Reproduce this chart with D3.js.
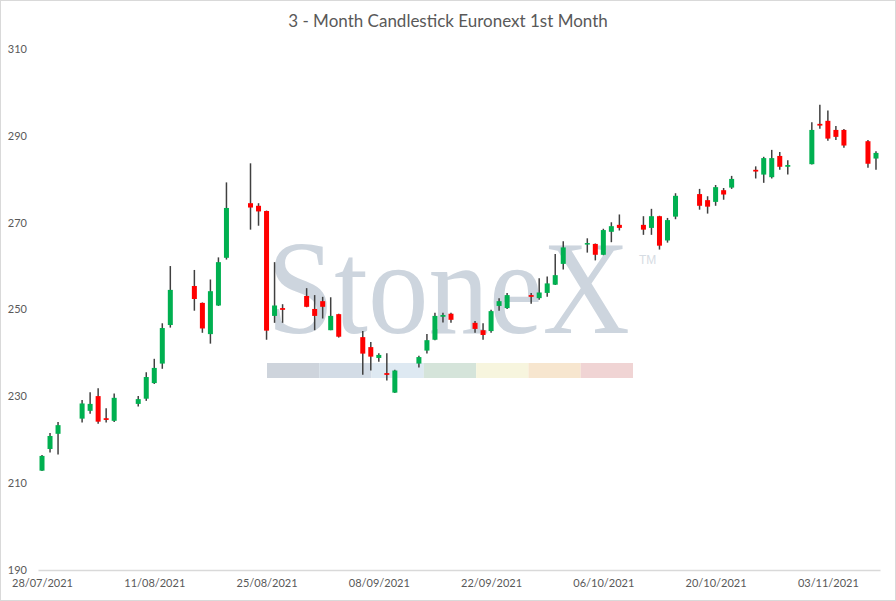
<!DOCTYPE html>
<html>
<head>
<meta charset="utf-8">
<script src="https://cdn.jsdelivr.net/npm/d3@7"></script>
<style>
  html, body { margin: 0; padding: 0; background: #fff; }
  svg { display: block; }
</style>
</head>
<body>
<div id="chart"></div>
<script>
// trading days (dd/mm/yyyy) and daily OHLC
const dates = [
  '28/07/2021','29/07/2021','30/07/2021',
  '02/08/2021','03/08/2021','04/08/2021','05/08/2021','06/08/2021',
  '09/08/2021','10/08/2021','11/08/2021','12/08/2021','13/08/2021',
  '16/08/2021','17/08/2021','18/08/2021','19/08/2021','20/08/2021',
  '23/08/2021','24/08/2021','25/08/2021','26/08/2021','27/08/2021',
  '30/08/2021','31/08/2021','01/09/2021','02/09/2021','03/09/2021',
  '06/09/2021','07/09/2021','08/09/2021','09/09/2021','10/09/2021',
  '13/09/2021','14/09/2021','15/09/2021','16/09/2021','17/09/2021',
  '20/09/2021','21/09/2021','22/09/2021','23/09/2021','24/09/2021',
  '27/09/2021','28/09/2021','29/09/2021','30/09/2021','01/10/2021',
  '04/10/2021','05/10/2021','06/10/2021','07/10/2021','08/10/2021',
  '11/10/2021','12/10/2021','13/10/2021','14/10/2021','15/10/2021',
  '18/10/2021','19/10/2021','20/10/2021','21/10/2021','22/10/2021',
  '25/10/2021','26/10/2021','27/10/2021','28/10/2021','29/10/2021',
  '01/11/2021','02/11/2021','03/11/2021','04/11/2021','05/11/2021',
  '08/11/2021','09/11/2021'
];
const open = [
  212.8, 217.8, 221.3,
  224.8, 226.6, 230.0, 224.9, 224.3,
  228.2, 229.4, 233.0, 237.5, 246.4,
  255.4, 251.5, 244.3, 250.9, 261.9,
  274.5, 273.9, 272.7, 248.5, 250.3,
  253.1, 250.1, 251.9, 245.2, 248.9,
  243.6, 241.3, 238.8, 235.3, 230.8,
  237.5, 240.5, 243.0, 248.3, 249.0,
  246.9, 245.2, 245.0, 250.8, 250.3,
  253.3, 252.6, 253.8, 255.7, 260.5,
  265.0, 265.1, 262.6, 267.9, 269.5,
  269.5, 268.8, 271.5, 265.9, 271.4,
  276.6, 275.2, 274.8, 277.5, 278.1,
  282.2, 281.1, 280.5, 285.4, 282.9,
  283.5, 292.8, 293.5, 291.4, 291.4,
  288.8, 284.8
];
const high = [
  216.4, 221.5, 224.0,
  229.1, 230.9, 231.8, 227.2, 230.6,
  230.0, 235.5, 238.6, 246.8, 260.0,
  259.1, 251.6, 256.9, 262.0, 279.3,
  283.7, 274.5, 272.8, 260.9, 251.2,
  254.9, 253.3, 252.9, 252.8, 249.0,
  245.0, 242.5, 239.9, 239.9, 236.1,
  239.3, 244.3, 249.2, 249.2, 249.2,
  247.3, 246.8, 249.9, 252.6, 253.8,
  253.8, 257.2, 257.6, 262.8, 265.7,
  266.4, 265.2, 268.6, 270.1, 271.9,
  271.5, 273.2, 271.6, 271.1, 276.8,
  277.8, 276.1, 278.7, 278.0, 280.8,
  283.0, 285.2, 286.8, 286.3, 284.4,
  293.2, 297.2, 295.9, 292.3, 291.6,
  289.1, 286.5
];
const low = [
  212.7, 217.0, 216.5,
  223.9, 225.9, 223.6, 223.9, 224.0,
  227.6, 228.9, 232.8, 236.3, 245.8,
  249.7, 244.6, 242.1, 250.8, 261.5,
  268.4, 269.3, 243.0, 246.9, 246.9,
  250.5, 245.2, 247.9, 245.2, 243.5,
  234.9, 235.9, 237.9, 233.6, 230.7,
  236.6, 239.8, 242.9, 247.0, 246.9,
  244.6, 243.0, 244.6, 249.7, 250.1,
  251.3, 252.2, 252.9, 255.6, 259.2,
  263.1, 261.3, 262.5, 265.5, 268.2,
  267.2, 267.2, 263.8, 265.4, 270.8,
  273.0, 272.1, 273.9, 275.3, 277.8,
  280.2, 279.2, 280.2, 282.2, 281.1,
  283.4, 291.7, 288.9, 289.1, 287.3,
  282.7, 282.2
];
const close = [
  216.2, 220.8, 223.3,
  228.3, 228.2, 224.1, 224.5, 229.6,
  229.3, 234.4, 236.5, 245.7, 254.5,
  252.4, 245.6, 254.2, 260.9, 273.4,
  273.5, 272.6, 245.1, 250.9, 249.9,
  250.6, 248.5, 250.6, 248.5, 243.7,
  239.8, 239.1, 239.5, 234.9, 235.9,
  239.0, 242.9, 248.5, 248.7, 247.6,
  245.5, 244.1, 249.6, 251.9, 253.3,
  252.9, 253.9, 256.0, 257.9, 264.3,
  265.3, 262.6, 268.3, 269.2, 268.8,
  268.4, 271.5, 264.7, 270.6, 276.2,
  273.9, 273.7, 278.2, 276.5, 280.1,
  281.8, 284.9, 284.9, 282.9, 283.3,
  291.4, 292.4, 289.4, 289.8, 287.8,
  283.6, 286.1
];
const yTicks = [190, 210, 230, 250, 270, 290, 310];
const xTickLabels = ['28/07/2021','11/08/2021','25/08/2021','08/09/2021','22/09/2021','06/10/2021','20/10/2021','03/11/2021'];
const titleText = '3 - Month Candlestick Euronext 1st Month';
const watermarkColors = ['#ced4dc','#d3dce6','#dee9f2','#d5e4da','#f7f5de','#f7e6cf','#f0d4d4'];

const W = 896, H = 601;
const parse = d3.utcParse('%d/%m/%Y');
const fmt = d3.utcFormat('%d/%m/%Y');

const candles = dates.map((d, i) => ({
  date: parse(d), o: open[i], h: high[i], l: low[i], c: close[i]
}));

const svg = d3.select('#chart').append('svg')
  .attr('width', W)
  .attr('height', H);

svg.append('rect')
  .attr('x', 0.5).attr('y', 0.5)
  .attr('width', W - 1).attr('height', H - 1)
  .attr('fill', '#fff')
  .attr('stroke', '#d9d9d9');

// one slot per calendar day, candle centred in its slot
const firstDay = parse(dates[0]);
const lastDay = d3.utcDay.offset(parse(dates[dates.length - 1]), 1);
const x = d3.scaleUtc().domain([firstDay, lastDay]).range([38, 880]);
const mid = d => d3.utcHour.offset(d, 12);

const y = d3.scaleLinear().domain([190, 310]).range([569.5, 49.3]);

// watermark
const wm = svg.append('g').attr('class', 'watermark');
wm.append('text')
  .attr('transform', 'translate(267,333) scale(1,1.1)')
  .attr('font-family', '"Liberation Serif", "DejaVu Serif", serif')
  .attr('font-size', 121)
  .attr('fill', '#cdd5de')
  .text('StoneX');
wm.append('text')
  .attr('x', 639).attr('y', 264)
  .attr('font-family', '"Liberation Sans", sans-serif')
  .attr('font-size', 12)
  .attr('fill', '#d6dce3')
  .text('TM');
const segW = (633 - 267) / watermarkColors.length;
wm.selectAll('rect')
  .data(watermarkColors)
  .enter()
  .append('rect')
  .attr('x', (d, i) => 267 + i * segW)
  .attr('y', 363)
  .attr('width', segW)
  .attr('height', 15)
  .attr('fill', d => d);

// title
svg.append('text')
  .attr('x', W / 2).attr('y', 27)
  .attr('text-anchor', 'middle')
  .attr('font-family', 'Lato, "Open Sans", sans-serif')
  .attr('font-size', 17)
  .attr('fill', '#595959')
  .text(titleText);

// y axis (labels only)
const yAxis = svg.append('g')
  .attr('transform', 'translate(27,0)')
  .call(d3.axisLeft(y).tickValues(yTicks).tickSize(0).tickPadding(0));
yAxis.select('.domain').remove();
yAxis.selectAll('text')
  .attr('font-family', 'Lato, "Open Sans", sans-serif')
  .attr('font-size', 11)
  .attr('fill', '#595959');

// x axis
const xAxis = svg.append('g')
  .attr('transform', 'translate(0,570)')
  .call(d3.axisBottom(x)
    .tickValues(xTickLabels.map(s => mid(parse(s))))
    .tickFormat(fmt)
    .tickSize(0)
    .tickPadding(9));
xAxis.select('.domain').attr('stroke', '#d9d9d9').attr('stroke-width', 1.3);
xAxis.selectAll('text')
  .attr('font-family', 'Lato, "Open Sans", sans-serif')
  .attr('font-size', 11)
  .attr('fill', '#595959');

// candles
const g = svg.append('g').attr('class', 'candles');
const bodyW = 5;

g.selectAll('line.wick')
  .data(candles)
  .enter()
  .append('line')
  .attr('class', 'wick')
  .attr('x1', d => x(mid(d.date)))
  .attr('x2', d => x(mid(d.date)))
  .attr('y1', d => y(d.h))
  .attr('y2', d => y(d.l))
  .attr('stroke', '#404040')
  .attr('stroke-width', 1.5);

g.selectAll('rect.body')
  .data(candles)
  .enter()
  .append('rect')
  .attr('class', 'body')
  .attr('x', d => x(mid(d.date)) - bodyW / 2)
  .attr('y', d => y(Math.max(d.o, d.c)))
  .attr('width', bodyW)
  .attr('height', d => Math.max(1.5, Math.abs(y(d.o) - y(d.c))))
  .attr('fill', d => d.c >= d.o ? '#00b050' : '#ff0000');
</script>
</body>
</html>
